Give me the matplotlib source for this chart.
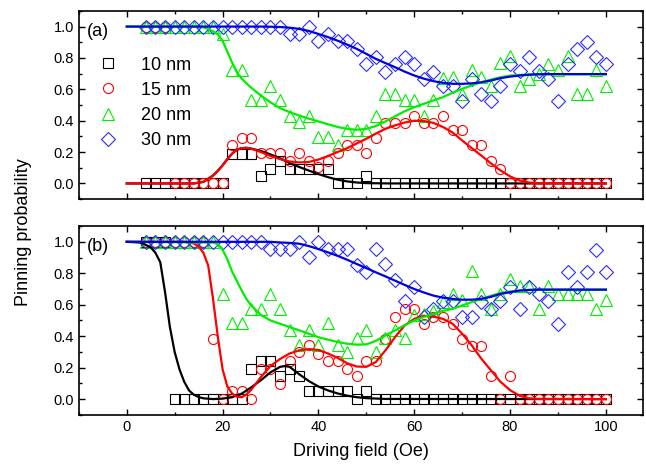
import matplotlib
matplotlib.use("Agg")
import matplotlib.pyplot as plt
from matplotlib.ticker import MultipleLocator

plt.rcParams['font.family'] = ['Liberation Sans', 'DejaVu Sans']

# measured fields (Oe)
field = [4, 6, 8, 10, 12, 14, 16, 18, 20, 22, 24, 26, 28, 30, 32, 34, 36, 38, 40, 42,
         44, 46, 48, 50, 52, 54, 56, 58, 60, 62, 64, 66, 68, 70, 72, 74, 76, 78, 80, 82,
         84, 86, 88, 90, 92, 94, 96, 98, 100]

# --- panel (a) data ---
a_10nm = [0, 0, 0, 0, 0, 0, 0, 0, 0, 0.19, 0.19, 0.19, 0.05, 0.09, 0.145, 0.095, 0.095, 0.095, 0.095, 0.095,
          0, 0, 0, 0.047, 0, 0, 0, 0, 0, 0, 0, 0, 0, 0, 0, 0, 0, 0, 0, 0,
          0, 0, 0, 0, 0, 0, 0, 0, 0]
a_15nm = [1, 1, 1, 0, 0, 0, 0, 0, 0, 0.242, 0.291, 0.291, 0.193, 0.193, 0.193, 0.146, 0.193, 0.146, 0.104, 0.146,
          0.193, 0.242, 0.242, 0.193, 0.291, 0.386, 0.386, 0.386, 0.433, 0.386, 0.386, 0.433, 0.338, 0.338, 0.242, 0.242, 0.146, 0.093, 0, 0,
          0, 0, 0, 0, 0, 0, 0, 0, 0]
a_20nm = [1, 1, 1, 1, 1, 1, 1, 1, 0.95, 0.72, 0.72, 0.53, 0.53, 0.62, 0.53, 0.433, 0.39, 0.433, 0.293, 0.293,
          0.245, 0.338, 0.338, 0.338, 0.433, 0.571, 0.571, 0.529, 0.529, 0.433, 0.529, 0.672, 0.678, 0.571, 0.72, 0.678, 0.624, 0.767, 0.815, 0.624,
          0.667, 0.70, 0.762, 0.72, 0.815, 0.571, 0.571, 0.72, 0.624]
a_30nm = [1, 1, 1, 1, 1, 1, 1, 1, 1, 1, 1, 1, 1, 1, 1, 0.95, 0.95, 1.0, 0.905, 0.95,
          0.905, 0.905, 0.855, 0.764, 0.808, 0.712, 0.762, 0.808, 0.762, 0.665, 0.712, 0.619, 0.618, 0.524, 0.664, 0.571, 0.524, 0.618, 0.762, 0.715,
          0.804, 0.715, 0.664, 0.524, 0.762, 0.855, 0.903, 0.804, 0.762]

# --- panel (b) data ---
b_10nm = [1, 1, 1, 0, 0, 0, 0, 0, 0, 0, 0, 0.194, 0.24, 0.24, 0.148, 0.194, 0.148, 0.05, 0.05, 0.05,
          0.05, 0.05, 0, 0.05, 0, 0, 0, 0, 0, 0, 0, 0, 0, 0, 0, 0, 0, 0, 0, 0,
          0, 0, 0, 0, 0, 0, 0, 0, 0]
b_15nm = [1, 1, 1, 1, 1, 1, 1, 0.384, 0, 0.05, 0.05, 0, 0.194, 0.194, 0.099, 0.24, 0.30, 0.342, 0.289, 0.24,
          0.24, 0.194, 0.146, 0.245, 0.24, 0.384, 0.525, 0.572, 0.572, 0.479, 0.522, 0.522, 0.479, 0.384, 0.34, 0.34, 0.146, 0, 0.146, 0,
          0, 0, 0, 0, 0, 0, 0, 0, 0]
b_20nm = [1, 1, 1, 1, 1, 1, 1, 1, 0.669, 0.482, 0.482, 0.574, 0.574, 0.669, 0.574, 0.437, 0.342, 0.437, 0.342, 0.482,
          0.342, 0.298, 0.39, 0.437, 0.298, 0.387, 0.437, 0.387, 0.535, 0.54, 0.56, 0.62, 0.669, 0.627, 0.813, 0.669, 0.574, 0.669, 0.764, 0.72,
          0.717, 0.574, 0.72, 0.669, 0.669, 0.669, 0.669, 0.574, 0.627]
b_30nm = [1, 1, 1, 1, 1, 1, 1, 1, 1, 1, 1, 1, 1, 0.954, 0.954, 0.952, 0.998, 0.903, 0.998, 0.952,
          0.952, 0.952, 0.855, 0.806, 0.952, 0.858, 0.757, 0.622, 0.71, 0.525, 0.574, 0.622, 0.622, 0.525, 0.525, 0.616, 0.574, 0.622, 0.715, 0.574,
          0.715, 0.669, 0.622, 0.479, 0.806, 0.715, 0.806, 0.949, 0.806]

# --- fit curves ---
fa_10_x = [0, 14, 16, 18, 19, 20, 21, 22, 23, 24, 25, 26, 28, 30, 32, 34, 36, 38, 40, 42, 44, 46, 48, 50, 55, 100]
fa_10_y = [0, 0, 0.01, 0.05, 0.08, 0.115, 0.155, 0.19, 0.215, 0.225, 0.227, 0.222, 0.207, 0.185, 0.16, 0.13,
           0.105, 0.082, 0.06, 0.04, 0.024, 0.013, 0.006, 0.002, 0, 0]
fa_15_x = [0, 14, 16, 18, 19, 20, 21, 22, 23, 24, 25, 26, 28, 30, 32, 34, 36, 38, 40, 42, 44, 46, 48, 50,
           52, 54, 56, 58, 60, 62, 64, 66, 68, 70, 72, 74, 76, 78, 80, 82, 84, 86, 100]
fa_15_y = [0, 0, 0.01, 0.05, 0.08, 0.115, 0.155, 0.19, 0.215, 0.225, 0.227, 0.222, 0.2, 0.175, 0.155, 0.14,
           0.134, 0.137, 0.152, 0.175, 0.2, 0.225, 0.255, 0.285, 0.318, 0.348, 0.37, 0.388, 0.40, 0.398,
           0.386, 0.36, 0.325, 0.274, 0.225, 0.178, 0.128, 0.083, 0.045, 0.019, 0.006, 0.001, 0]
fa_20_x = [0, 14, 16, 17, 18, 19, 20, 21, 22, 23, 24, 25, 26, 28, 30, 32, 34, 36, 38, 40, 42, 44, 46, 48,
           50, 52, 54, 56, 58, 60, 62, 64, 66, 68, 70, 72, 74, 76, 78, 80, 82, 84, 86, 100]
fa_20_y = [1, 1, 0.995, 0.985, 0.97, 0.95, 0.91, 0.84, 0.77, 0.71, 0.668, 0.637, 0.61, 0.56, 0.517, 0.48,
           0.454, 0.433, 0.413, 0.395, 0.377, 0.36, 0.348, 0.342, 0.348, 0.366, 0.395, 0.428, 0.46, 0.486,
           0.508, 0.529, 0.55, 0.578, 0.603, 0.625, 0.645, 0.662, 0.677, 0.687, 0.692, 0.695, 0.696, 0.696]
fa_30_x = [0, 28, 30, 32, 34, 36, 38, 40, 42, 44, 46, 48, 50, 52, 54, 56, 58, 60, 62, 64, 66, 68, 70, 72,
           74, 76, 78, 80, 82, 84, 86, 88, 100]
fa_30_y = [1, 1, 0.999, 0.997, 0.993, 0.985, 0.972, 0.953, 0.933, 0.91, 0.885, 0.858, 0.826, 0.794, 0.767,
           0.741, 0.713, 0.688, 0.668, 0.652, 0.641, 0.635, 0.635, 0.638, 0.645, 0.656, 0.671, 0.681, 0.688,
           0.693, 0.696, 0.697, 0.697]

fb_10_x = [0, 3, 4, 5, 6, 7, 8, 9, 10, 11, 12, 13, 14, 15, 16, 18, 20, 22, 24, 26, 28, 30, 32, 33, 34, 36,
           38, 40, 42, 44, 46, 48, 50, 54, 100]
fb_10_y = [1, 0.995, 0.98, 0.965, 0.93, 0.87, 0.68, 0.46, 0.3, 0.19, 0.11, 0.055, 0.028, 0.013, 0.005, 0,
           0.003, 0.012, 0.035, 0.075, 0.12, 0.17, 0.205, 0.21, 0.205, 0.158, 0.115, 0.08, 0.055, 0.036,
           0.022, 0.012, 0.006, 0.001, 0]
fb_15_x = [0, 12, 14, 15, 16, 17, 18, 19, 20, 21, 22, 23, 24, 25, 26, 28, 30, 32, 34, 36, 38, 40, 42, 44,
           46, 48, 50, 52, 54, 56, 58, 60, 62, 64, 66, 68, 70, 72, 74, 76, 78, 80, 82, 84, 86, 100]
fb_15_y = [1, 1, 0.99, 0.97, 0.93, 0.85, 0.64, 0.40, 0.19, 0.08, 0.035, 0.015, 0.012, 0.03, 0.06, 0.14,
           0.21, 0.255, 0.29, 0.31, 0.318, 0.312, 0.29, 0.262, 0.228, 0.207, 0.205, 0.236, 0.31, 0.394,
           0.468, 0.51, 0.53, 0.525, 0.51, 0.479, 0.416, 0.342, 0.257, 0.184, 0.11, 0.057, 0.021, 0.005,
           0.001, 0]
fb_20_x = [0, 18, 19, 20, 21, 22, 23, 24, 25, 26, 28, 30, 32, 34, 36, 38, 40, 42, 44, 46, 48, 50, 52, 54,
           56, 58, 60, 62, 64, 66, 68, 70, 72, 74, 76, 78, 80, 82, 84, 86, 100]
fb_20_y = [1, 0.995, 0.985, 0.95, 0.89, 0.81, 0.75, 0.69, 0.635, 0.595, 0.535, 0.5, 0.479, 0.458, 0.437,
           0.415, 0.394, 0.378, 0.363, 0.352, 0.346, 0.348, 0.37, 0.405, 0.437, 0.47, 0.5, 0.522, 0.542,
           0.56, 0.574, 0.595, 0.617, 0.637, 0.657, 0.675, 0.684, 0.69, 0.694, 0.696, 0.696]
fb_30_x = [0, 30, 32, 34, 36, 38, 40, 42, 44, 46, 48, 50, 52, 54, 56, 58, 60, 62, 64, 66, 68, 70, 72, 74,
           76, 78, 80, 82, 84, 86, 100]
fb_30_y = [1, 1, 0.996, 0.993, 0.988, 0.973, 0.954, 0.933, 0.911, 0.886, 0.859, 0.833, 0.806, 0.78, 0.753,
           0.726, 0.70, 0.678, 0.658, 0.645, 0.637, 0.632, 0.632, 0.637, 0.65, 0.669, 0.68, 0.69, 0.694,
           0.696, 0.696]

labels = ["10 nm", "15 nm", "20 nm", "30 nm"]
markers = ["s", "o", "^", "D"]
sizes = [6.5, 7.2, 8.5, 7.3]
mcolors = ["black", "#ff0000", "#00ee00", "#2a2aff"]
lcolors = ["black", "#ff0000", "#00ee00", "#0000e0"]

fig = plt.figure(figsize=(6.46, 4.73), dpi=100)
ax1 = fig.add_axes([0.122, 0.579, 0.873, 0.398])
ax2 = fig.add_axes([0.122, 0.123, 0.873, 0.399])

panels = [
    (ax1, [a_10nm, a_15nm, a_20nm, a_30nm],
     [(fa_10_x, fa_10_y), (fa_15_x, fa_15_y), (fa_20_x, fa_20_y), (fa_30_x, fa_30_y)], "(a)"),
    (ax2, [b_10nm, b_15nm, b_20nm, b_30nm],
     [(fb_10_x, fb_10_y), (fb_15_x, fb_15_y), (fb_20_x, fb_20_y), (fb_30_x, fb_30_y)], "(b)"),
]

for ax, series, fits, tag in panels:
    for vals, m, ms, c, lab in zip(series, markers, sizes, mcolors, labels):
        ax.plot(field, vals, linestyle="none", marker=m, markersize=ms,
                markerfacecolor="none", markeredgecolor=c, markeredgewidth=0.8, label=lab)
    for (fx, fy), c in zip(fits, lcolors):
        ax.plot(fx, fy, color=c, linewidth=1.6)
    ax.set_xlim(-10, 107.7)
    ax.set_ylim(-0.1, 1.1)
    ax.xaxis.set_major_locator(MultipleLocator(20))
    ax.xaxis.set_minor_locator(MultipleLocator(10))
    ax.yaxis.set_major_locator(MultipleLocator(0.2))
    ax.yaxis.set_minor_locator(MultipleLocator(0.1))
    ax.yaxis.set_major_formatter(plt.FormatStrFormatter("%.1f"))
    ax.tick_params(which="both", direction="in", top=True, right=True, labelsize=10.5, width=1)
    ax.tick_params(which="major", length=4)
    ax.tick_params(which="minor", length=2.5)
    for sp in ax.spines.values():
        sp.set_linewidth(1.2)
    ax.text(0.015, 0.89, tag, transform=ax.transAxes, fontsize=13, va="center", ha="left")

ax1.tick_params(labelbottom=False)
ax1.legend(loc="upper left", bbox_to_anchor=(0.02, 0.805), frameon=False, fontsize=13,
           handlelength=1.0, handletextpad=1.3, labelspacing=0.45, borderpad=0)
ax2.set_xlabel("Driving field (Oe)", fontsize=13, labelpad=7)
fig.text(0.036, 0.51, "Pinning probability", rotation=90, fontsize=13, ha="center", va="center")

fig.savefig("out.png", dpi=100)
